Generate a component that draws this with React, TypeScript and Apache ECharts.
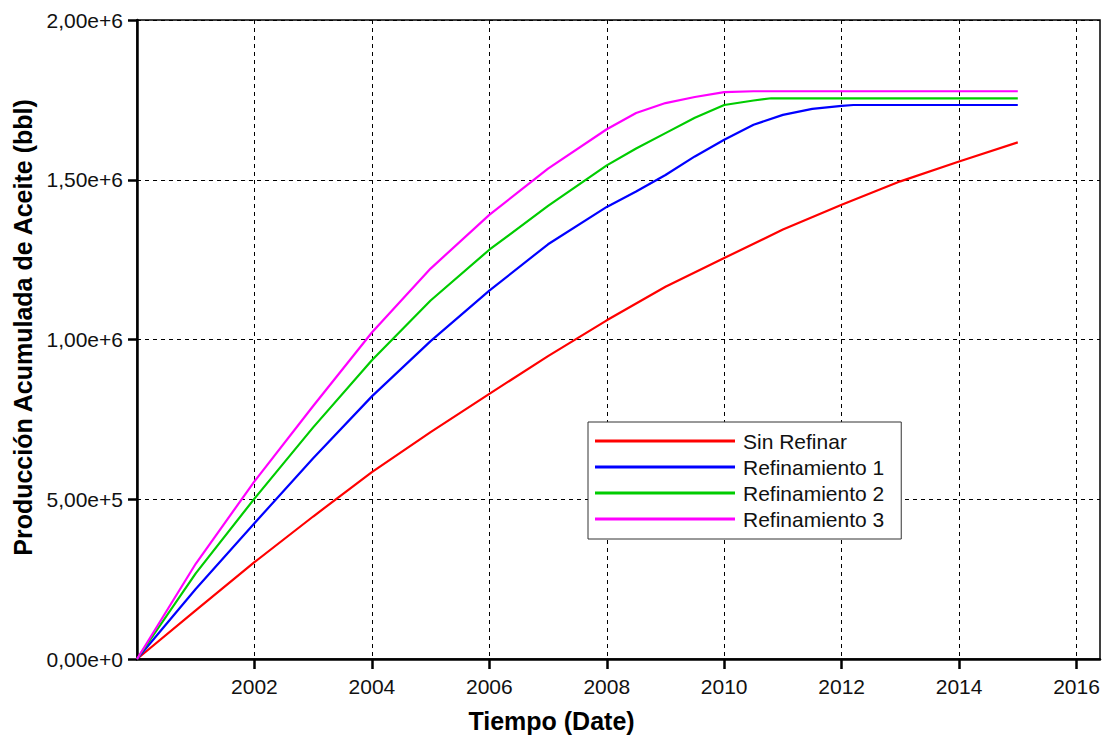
import React, { useEffect, useRef } from "react";
import * as echarts from "echarts";

// Time axis (decimal years) and cumulative oil production (bbl) per case
const years = [2000, 2001, 2002, 2003, 2004, 2005, 2006, 2007, 2008, 2009, 2010, 2011, 2012, 2013, 2014, 2015];
const sinRefinar = [0, 152000, 303000, 446000, 585000, 710000, 830000, 948000, 1060000, 1165000, 1255000, 1344000, 1422000, 1495000, 1557000, 1617000];

const yearsRef1 = [2000, 2001, 2002, 2003, 2004, 2005, 2006, 2007, 2008, 2008.5, 2009, 2009.5, 2010, 2010.5, 2011, 2011.5, 2012, 2012.2, 2015];
const refinamiento1 = [0, 219000, 425000, 628000, 822000, 995000, 1153000, 1298000, 1415000, 1463000, 1515000, 1573000, 1625000, 1672000, 1703000, 1722000, 1731000, 1734000, 1734000];

const yearsRef2 = [2000, 2001, 2002, 2003, 2004, 2005, 2006, 2007, 2008, 2008.5, 2009, 2009.5, 2010, 2010.5, 2010.8, 2015];
const refinamiento2 = [0, 268000, 502000, 725000, 935000, 1122000, 1281000, 1418000, 1545000, 1598000, 1646000, 1694000, 1734000, 1748000, 1755000, 1755000];

const yearsRef3 = [2000, 2001, 2002, 2003, 2004, 2005, 2006, 2007, 2008, 2008.5, 2009, 2009.5, 2010, 2010.5, 2015];
const refinamiento3 = [0, 298000, 556000, 792000, 1022000, 1222000, 1390000, 1535000, 1658000, 1709000, 1740000, 1759000, 1774000, 1777000, 1777000];

const xTickYears = [2002, 2004, 2006, 2008, 2010, 2012, 2014, 2016];
const seriesNames = ["Sin Refinar", "Refinamiento 1", "Refinamiento 2", "Refinamiento 3"];
const seriesColors = ["#ff0000", "#0000ff", "#00cc00", "#ff00ff"];

const FONT = "'Liberation Sans', Arial, sans-serif";

function zip(xs: number[], ys: number[]) {
  return xs.map((x, i) => [x, ys[i]]);
}

export default function App() {
  const ref = useRef<HTMLDivElement>(null);

  useEffect(() => {
    if (!ref.current) return;
    const chart = echarts.init(ref.current, undefined, { renderer: "svg" });

    const dataSets = [
      zip(years, sinRefinar),
      zip(yearsRef1, refinamiento1),
      zip(yearsRef2, refinamiento2),
      zip(yearsRef3, refinamiento3),
    ];

    chart.setOption({
      animation: false,
      backgroundColor: "#ffffff",
      textStyle: { fontFamily: FONT },
      grid: {
        left: 137,
        top: 20,
        right: 4,
        bottom: 78,
        show: true,
        borderColor: "#000",
        borderWidth: 1.5,
        backgroundColor: "transparent",
      },
      legend: {
        orient: "vertical",
        left: 588,
        top: 422,
        padding: [8, 17, 9, 7],
        itemWidth: 140,
        itemHeight: 3,
        itemGap: 4,
        icon: "rect",
        backgroundColor: "#fff",
        borderColor: "#333",
        borderWidth: 1,
        borderRadius: 0,
        textStyle: { fontFamily: FONT, fontSize: 21, color: "#111", lineHeight: 22, padding: [0, 0, 0, 3] },
        data: seriesNames,
      },
      xAxis: {
        type: "value",
        min: 2000,
        max: 2016.4,
        interval: 2,
        name: "Tiempo (Date)",
        nameLocation: "middle",
        nameGap: 49,
        nameTextStyle: {
          fontFamily: FONT,
          fontSize: 25,
          fontWeight: "bold",
          color: "#000",
          padding: [0, 134, 0, 0],
        },
        axisLine: { onZero: false, lineStyle: { color: "#000", width: 2.5 } },
        axisTick: {
          show: true,
          length: 10,
          lineStyle: { color: "#000", width: 2.5 },
          customValues: xTickYears,
        },
        axisLabel: {
          fontFamily: FONT,
          fontSize: 21,
          color: "#111",
          margin: 17,
          customValues: xTickYears,
          formatter: (v: number) => String(Math.round(v)),
        },
        splitLine: { show: true, lineStyle: { color: "#000", type: [4, 4], width: 1 } },
      },
      yAxis: {
        type: "value",
        min: 0,
        max: 2000000,
        interval: 500000,
        name: "Producción Acumulada de Aceite (bbl)",
        nameLocation: "middle",
        nameGap: 102,
        nameTextStyle: {
          fontFamily: FONT,
          fontSize: 25,
          fontWeight: "bold",
          color: "#000",
          padding: [0, 0, 0, 24],
        },
        axisLine: { show: true, lineStyle: { color: "#000", width: 2.5 } },
        axisTick: { show: true, length: 9, lineStyle: { color: "#000", width: 2.5 } },
        axisLabel: {
          fontFamily: FONT,
          fontSize: 21,
          color: "#111",
          margin: 14,
          formatter: (v: number) => v.toExponential(2).replace(".", ","),
        },
        splitLine: { show: true, lineStyle: { color: "#000", type: [4, 4], width: 1 } },
      },
      series: seriesNames.map((name, i) => ({
        name,
        type: "line",
        data: dataSets[i],
        symbol: "none",
        color: seriesColors[i],
        lineStyle: { color: seriesColors[i], width: 2.2 },
        z: 3 + i,
      })),
    });

    return () => chart.dispose();
  }, []);

  return (
    <div
      ref={ref}
      style={{ position: "fixed", left: 0, top: 0, width: 1104, height: 738, background: "#fff" }}
    />
  );
}
